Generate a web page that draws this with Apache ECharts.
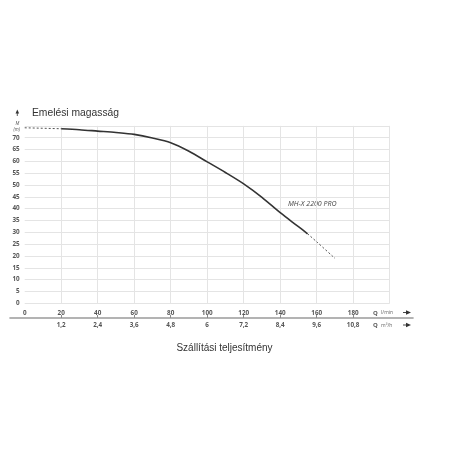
<!DOCTYPE html>
<html>
<head>
<meta charset="utf-8">
<script src="https://cdn.jsdelivr.net/npm/echarts@6/dist/echarts.min.js"></script>
<style>html,body{margin:0;padding:0;background:#fff}#c{width:456px;height:456px}</style>
</head>
<body>
<div id="c"></div>
<script>
// Flow (l/min) and head (m)
const solidFlow = [20, 30, 40, 50, 60, 70, 80, 90, 100, 110, 120, 130, 140, 150, 155];
const solidHead = [73.8, 73.4, 72.8, 72.2, 71.4, 69.9, 67.9, 64.3, 59.8, 55.3, 50.5, 44.8, 38.3, 32.4, 29.4];
const dashStartFlow = [0, 20];
const dashStartHead = [74.2, 73.8];
const dashEndFlow = [155, 160, 170];
const dashEndHead = [29.4, 26.0, 19.0];
// secondary axis (m³/h) tick labels at l/min positions
const m3hTickAt = [20, 40, 60, 80, 100, 120, 140, 160, 180];
const m3hLabels = ['1,2', '2,4', '3,6', '4,8', '6', '7,2', '8,4', '9,6', '10,8'];

const pairs = (xs, ys) => xs.map((x, i) => [x, ys[i]]);
const lblFont = { fontFamily: 'Open Sans', fontWeight: 'bold', fontSize: 6.3, color: '#555' };

const chart = echarts.init(document.getElementById('c'), null, { renderer: 'canvas' });
chart.setOption({
  animation: false,
  backgroundColor: '#fff',
  grid: [
    { left: 24.7, right: 66.3, top: 125.9, bottom: 152.7 },
    { left: 10, right: 43, top: 317, height: 1 }
  ],
  xAxis: [
    {
      gridIndex: 0, type: 'value', min: 0, max: 200, interval: 20,
      axisLine: { show: false }, axisTick: { show: false },
      axisLabel: Object.assign({ margin: 6.5, showMaxLabel: false }, lblFont),
      splitLine: { show: true, showMinLine: false, lineStyle: { color: '#e4e4e4', width: 1 } }
    },
    {
      gridIndex: 1, type: 'value', min: -8.05, max: 212.8,
      axisLine: { show: true, lineStyle: { color: '#9a9a9a', width: 1.6 } },
      axisTick: { show: true, inside: true, length: 3, customValues: m3hTickAt, lineStyle: { color: '#8a8a8a' } },
      axisLabel: Object.assign({
        margin: 4, customValues: m3hTickAt,
        formatter: v => m3hLabels[m3hTickAt.indexOf(v)]
      }, lblFont),
      splitLine: { show: false }
    }
  ],
  yAxis: [
    {
      gridIndex: 0, type: 'value', min: 0, max: 75, interval: 5,
      axisLine: { show: false }, axisTick: { show: false },
      axisLabel: Object.assign({ margin: 5, showMaxLabel: false }, lblFont),
      splitLine: { show: true, lineStyle: { color: '#e4e4e4', width: 1 } }
    },
    { gridIndex: 1, type: 'value', show: false }
  ],
  series: [
    {
      type: 'line', xAxisIndex: 0, yAxisIndex: 0, data: pairs(solidFlow, solidHead),
      smooth: 0.3, symbol: 'none', lineStyle: { color: '#333', width: 1.6 }
    },
    {
      type: 'line', xAxisIndex: 0, yAxisIndex: 0, data: pairs(dashStartFlow, dashStartHead),
      symbol: 'none', lineStyle: { color: '#555', width: 1, type: [2, 2] }
    },
    {
      type: 'line', xAxisIndex: 0, yAxisIndex: 0, data: pairs(dashEndFlow, dashEndHead),
      smooth: 0.3, symbol: 'none', lineStyle: { color: '#555', width: 1, type: [2, 2] }
    }
  ],
  graphic: [
    { type: 'text', left: 32, top: 108, style: { text: 'Emelési magasság', font: '10.3px "Liberation Sans", Arial, sans-serif', fill: '#333' } },
    { type: 'text', x: 224.5, y: 348, style: { text: 'Szállítási teljesítmény', font: '10px "Liberation Sans", Arial, sans-serif', fill: '#333', align: 'center', verticalAlign: 'middle' } },
    { type: 'text', x: 288, y: 204, style: { text: 'MH-X 2200 PRO', font: 'italic 7px "Open Sans", sans-serif', fill: '#444', verticalAlign: 'middle' } },
    // y axis arrow + unit
    { type: 'polygon', shape: { points: [[17.3, 109.5], [15.5, 113.5], [19.1, 113.5]] }, style: { fill: '#333' } },
    { type: 'line', shape: { x1: 17.3, y1: 113, x2: 17.3, y2: 116 }, style: { stroke: '#333', lineWidth: 0.8 } },
    { type: 'text', x: 17.3, y: 123.3, style: { text: 'M', font: 'italic 4.5px "Open Sans", sans-serif', fill: '#555', align: 'center', verticalAlign: 'middle' } },
    { type: 'text', x: 16.8, y: 129.3, style: { text: '(m)', font: 'italic 4.5px "Open Sans", sans-serif', fill: '#555', align: 'center', verticalAlign: 'middle' } },
    // Q labels
    { type: 'text', x: 373, y: 313, style: {
        text: '{b|Q} {s|l/min}', verticalAlign: 'middle',
        rich: { b: { font: 'bold 6px "Open Sans", sans-serif', fill: '#555' }, s: { font: '5px "Open Sans", sans-serif', fill: '#666' } } } },
    { type: 'text', x: 373, y: 325.5, style: {
        text: '{b|Q} {s|m³/h}', verticalAlign: 'middle',
        rich: { b: { font: 'bold 6px "Open Sans", sans-serif', fill: '#555' }, s: { font: '5px "Open Sans", sans-serif', fill: '#666' } } } },
    // arrows
    { type: 'line', shape: { x1: 403, y1: 312.5, x2: 407, y2: 312.5 }, style: { stroke: '#333', lineWidth: 0.9 } },
    { type: 'polygon', shape: { points: [[406, 310.3], [411, 312.5], [406, 314.7]] }, style: { fill: '#333' } },
    { type: 'line', shape: { x1: 403, y1: 325, x2: 407, y2: 325 }, style: { stroke: '#333', lineWidth: 0.9 } },
    { type: 'polygon', shape: { points: [[406, 322.8], [411, 325], [406, 327.2]] }, style: { fill: '#333' } }
  ]
});
</script>
</body>
</html>
